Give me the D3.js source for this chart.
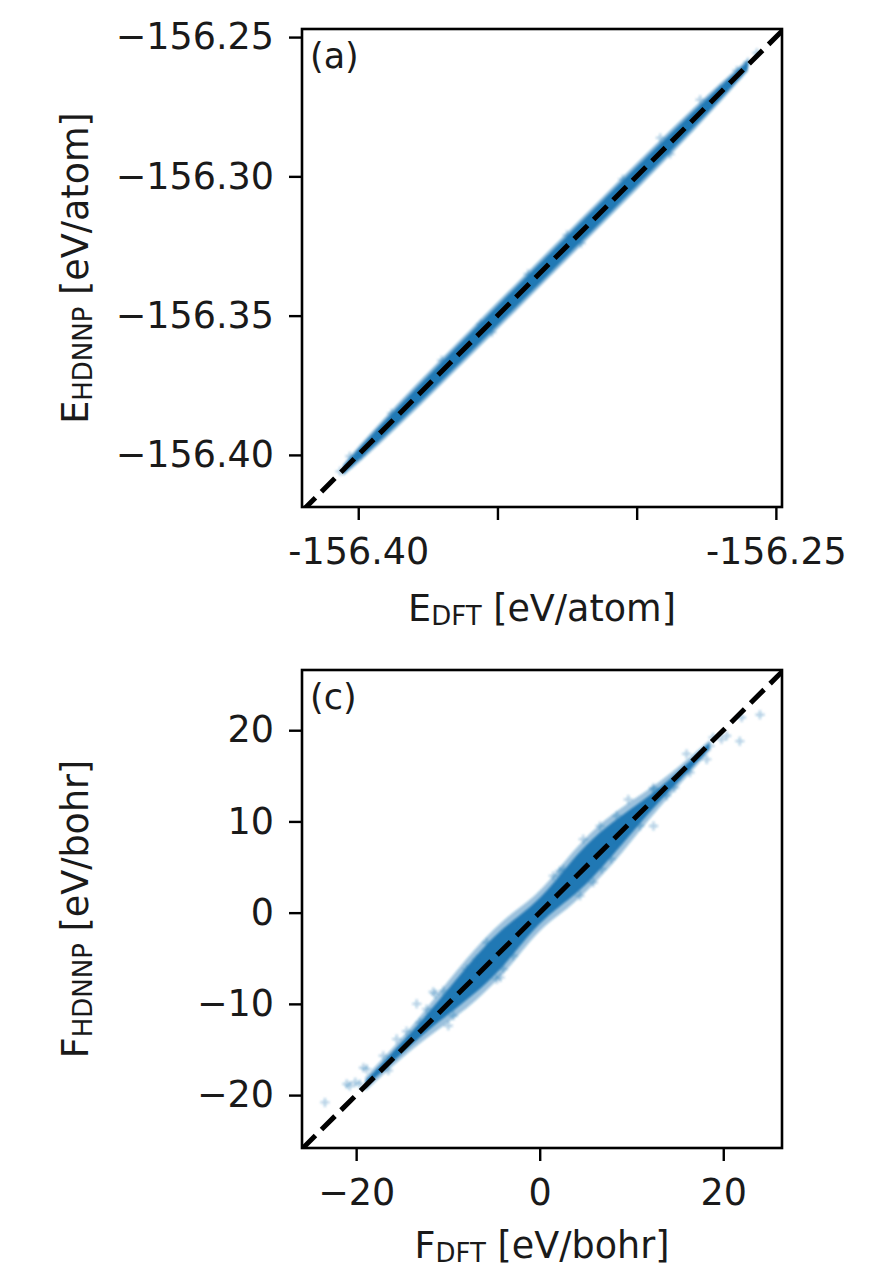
<!DOCTYPE html>
<html>
<head>
<meta charset="utf-8">
<script src="https://cdn.jsdelivr.net/npm/d3@7"></script>
<style>
  html, body { margin: 0; padding: 0; background: #fff; }
  svg { display: block; font-family: "DejaVu Sans", sans-serif; }
</style>
</head>
<body>
<svg id="fig" width="880" height="1267"></svg>
<script>
// ---- Energy parity panel (a) ----
const energyDomainX = [-156.4202, -156.2478];
const energyDomainY = [-156.4187, -156.2471];
const energyTicks = [-156.40, -156.35, -156.30, -156.25];
const energyTickLabelsX = ["-156.40", "", "", "-156.25"];
const energyTickLabelsY = ["\u2212156.40", "\u2212156.35", "\u2212156.30", "\u2212156.25"];

// dense core / lighter fringe of the energy scatter (DFT value, HDNNP lower and upper edge)
const energyBandDFT  = [-156.4055, -156.400, -156.390, -156.380, -156.370, -156.360, -156.350, -156.340, -156.330, -156.320, -156.310, -156.300, -156.290, -156.280, -156.270, -156.260];
const energyCoreLo   = [-156.4067, -156.4020, -156.3927, -156.3831, -156.3733, -156.3634, -156.3535, -156.3435, -156.3335, -156.3235, -156.3135, -156.3034, -156.2932, -156.2829, -156.2723, -156.2613];
const energyCoreHi   = [-156.4043, -156.3980, -156.3873, -156.3769, -156.3667, -156.3566, -156.3465, -156.3365, -156.3265, -156.3165, -156.3065, -156.2966, -156.2868, -156.2771, -156.2677, -156.2587];
const energyFringeLo = [-156.4075, -156.4030, -156.3939, -156.3844, -156.3746, -156.3647, -156.3548, -156.3448, -156.3348, -156.3248, -156.3148, -156.3047, -156.2945, -156.2841, -156.2734, -156.2622];
const energyFringeHi = [-156.4035, -156.3970, -156.3861, -156.3756, -156.3654, -156.3553, -156.3452, -156.3352, -156.3252, -156.3152, -156.3052, -156.2953, -156.2855, -156.2759, -156.2666, -156.2578];

// sparse energy points outside the core
const energyOutDFT   = [-156.4065, -156.4030, -156.3990, -156.3880, -156.3700, -156.3560, -156.3520, -156.3390, -156.3250, -156.3200, -156.3050, -156.2915, -156.2880, -156.2772, -156.2700, -156.2640, -156.2600, -156.2568];
const energyOutHDNNP = [-156.4059, -156.4005, -156.4000, -156.3850, -156.3660, -156.3530, -156.3560, -156.3350, -156.3210, -156.3240, -156.3010, -156.2862, -156.2920, -156.2725, -156.2690, -156.2620, -156.2590, -156.2557];

// ---- Force parity panel (c) ----
const forceDomainX = [-25.9, 26.4];
const forceDomainY = [-25.8, 26.6];
const forceTicks = [-20, -10, 0, 10, 20];
const forceTicksX = [-20, 0, 20];
const forceTickLabelsY = ["\u221220", "\u221210", "0", "10", "20"];
const forceTickLabelsX = ["\u221220", "0", "20"];

// dense core and lighter fringe of the force scatter
const forceBandDFT  = [-19, -17, -15, -13, -11, -9, -7, -5, -3, -1, 1, 3, 5, 7, 9, 11, 13, 15, 17, 18.5];
const forceCoreLo   = [-19.15, -17.25, -15.4, -13.6, -11.95, -10.4, -8.8, -7.0, -4.7, -2.2, -0.2, 1.3, 3.0, 5.2, 7.5, 9.9, 12.15, 14.25, 16.4, 18.0];
const forceCoreHi   = [-18.45, -16.35, -14.2, -12.0, -9.65, -7.2, -4.8, -2.6, -0.9, 0.6, 2.6, 5.1, 7.4, 9.2, 10.7, 12.1, 13.65, 15.35, 17.2, 18.6];
const forceFringeLo = [-19.55, -17.7, -15.9, -14.25, -12.8, -11.3, -9.7, -7.8, -5.6, -3.0, -1.0, 0.4, 2.2, 4.3, 6.6, 9.1, 11.5, 13.75, 16.0, 17.7];
const forceFringeHi = [-18.05, -15.9, -13.7, -11.35, -8.8, -6.3, -3.9, -1.8, 0.0, 1.4, 3.4, 6.0, 8.2, 10.1, 11.6, 12.9, 14.3, 15.85, 17.6, 18.9];

// individual force components away from the core
const forceOutDFT   = [24.0, 22.0, 19.8, 21.8, 18.9, 17.5, 18.2, 16.0, 14.7, 12.4, 12.4, 9.65, 7.8, 6.75, 4.75, 2.2, -4.3, -11.4, -11.6, -13.4, -9.96, -9.4, -14.5, -16.5, -19.2, -20.7, -20.1, -19.6, -23.4,
  -10.5, -9.04, -7.95, -6.86, -4.68, -3.96, -2.88, -5.77, -2.51, 1.48, 2.57, 4.39, 5.84, 7.66, 8.39, 6.57, 8.39, 10.2, 10.93, 13.83, 14.92, 16.37, 12.37, -12.31, -13.04, -15.58, -17.04, -18.85, -21.02, 18.55, 20.37];
const forceOutHDNNP = [21.7, 21.4, 19.0, 18.8, 19.2, 17.2, 16.8, 17.4, 13.7, 13.7, 9.5, 12.4, 5.9, 4.8, 8.05, 4.6, -7.1, -8.9, -8.7, -10.0, -12.4, -11.3, -13.0, -17.3, -17.0, -19.0, -18.6, -18.8, -20.8,
  -8.57, -9.48, -6.19, -5.10, -7.29, -6.19, -4.73, -3.27, -1.07, 4.03, 4.77, 1.84, 3.31, 6.6, 7.69, 9.51, 10.61, 10.98, 9.51, 12.8, 14.63, 15.36, 13.53, -10.58, -12.03, -13.86, -15.69, -17.15, -18.79, 18.28, 19.38];

const BLUE = "#1f77b4";
const INK = "#1a1a1a";
const FS = 36.5;      // tick and title font size
const SUB = 26;       // subscript font size

const svg = d3.select("#fig");
const defs = svg.append("defs");
defs.append("filter").attr("id", "soft")
  .append("feGaussianBlur").attr("stdDeviation", 0.9);

function panel(cfg) {
  const { left, top, width, height } = cfg.box;
  const x = d3.scaleLinear().domain(cfg.domainX).range([left, left + width]);
  const y = d3.scaleLinear().domain(cfg.domainY).range([top + height, top]);
  const clipId = "clip-" + cfg.key;
  defs.append("clipPath").attr("id", clipId)
    .append("rect").attr("x", left).attr("y", top).attr("width", width).attr("height", height);

  const g = svg.append("g");
  const plot = g.append("g").attr("clip-path", `url(#${clipId})`);
  const marks = plot.append("g").attr("filter", "url(#soft)");

  const band = cfg.bandX.map((v, i) => ({ x: v, i }));
  marks.append("path")
    .attr("d", d3.area().curve(d3.curveBasis)
      .x(d => x(d.x)).y0(d => y(cfg.fringeLo[d.i])).y1(d => y(cfg.fringeHi[d.i]))(band))
    .attr("fill", BLUE).attr("fill-opacity", cfg.fringeOpacity);
  marks.append("path")
    .attr("d", d3.area().curve(d3.curveBasis)
      .x(d => x(d.x)).y0(d => y(cfg.coreLo[d.i])).y1(d => y(cfg.coreHi[d.i]))(band))
    .attr("fill", BLUE).attr("fill-opacity", 0.97);

  const s = 4.5;
  marks.selectAll("path.pt").data(cfg.outX.map((v, i) => [v, cfg.outY[i]]))
    .join("path").attr("class", "pt")
    .attr("d", d => `M${x(d[0]) - s},${y(d[1])}h${2 * s}M${x(d[0])},${y(d[1]) - s}v${2 * s}`)
    .attr("stroke", BLUE).attr("stroke-width", 2.4).attr("stroke-opacity", 0.33).attr("fill", "none");

  // identity line
  const lo = Math.min(cfg.domainX[0], cfg.domainY[0]);
  const hi = Math.max(cfg.domainX[1], cfg.domainY[1]);
  plot.append("line")
    .attr("x1", x(lo)).attr("y1", y(lo)).attr("x2", x(hi)).attr("y2", y(hi))
    .attr("stroke", "#000").attr("stroke-width", 5).attr("stroke-dasharray", "19,8.5");

  // axes
  const yAxis = d3.axisLeft(y).tickValues(cfg.ticksY).tickSize(13).tickPadding(15)
    .tickFormat((d, i) => cfg.tickLabelsY[i]);
  const xAxis = d3.axisBottom(x).tickValues(cfg.ticksX).tickSize(13).tickPadding(18)
    .tickFormat((d, i) => cfg.tickLabelsX[i]);
  const ya = g.append("g").attr("transform", `translate(${left},0)`).call(yAxis);
  const xa = g.append("g").attr("transform", `translate(0,${top + height})`).call(xAxis);
  [ya, xa].forEach(a => {
    a.select(".domain").remove();
    a.selectAll("line").attr("stroke", "#000").attr("stroke-width", 2.4);
    a.selectAll("text").attr("fill", INK).attr("font-size", FS)
      .attr("font-family", "DejaVu Sans");
  });

  g.append("rect").attr("x", left).attr("y", top).attr("width", width).attr("height", height)
    .attr("fill", "none").attr("stroke", "#000").attr("stroke-width", 2.6);

  g.append("text").attr("x", left + 8).attr("y", top + 39)
    .attr("font-size", 35).attr("fill", INK).text(cfg.tag);

  // axis titles with subscripts
  const xt = g.append("text").attr("x", left + width / 2).attr("y", cfg.xTitleY)
    .attr("text-anchor", "middle").attr("font-size", FS).attr("fill", INK);
  xt.append("tspan").text(cfg.xTitle[0]);
  xt.append("tspan").attr("font-size", SUB).attr("dy", 4).text(cfg.xTitle[1]);
  xt.append("tspan").attr("dy", -4).text(cfg.xTitle[2]);

  const yt = g.append("text")
    .attr("transform", `translate(${cfg.yTitleX},${top + height / 2}) rotate(-90)`)
    .attr("text-anchor", "middle").attr("font-size", FS).attr("fill", INK);
  yt.append("tspan").text(cfg.yTitle[0]);
  yt.append("tspan").attr("font-size", SUB).attr("dy", 4).text(cfg.yTitle[1]);
  yt.append("tspan").attr("dy", -4).text(cfg.yTitle[2]);
}

panel({
  key: "energy", tag: "(a)",
  box: { left: 302, top: 29, width: 480, height: 478 },
  domainX: energyDomainX, domainY: energyDomainY,
  ticksX: energyTicks, ticksY: energyTicks,
  tickLabelsX: energyTickLabelsX, tickLabelsY: energyTickLabelsY,
  bandX: energyBandDFT, coreLo: energyCoreLo, coreHi: energyCoreHi,
  fringeLo: energyFringeLo, fringeHi: energyFringeHi, fringeOpacity: 0.55,
  outX: energyOutDFT, outY: energyOutHDNNP,
  xTitle: ["E", "DFT", " [eV/atom]"], yTitle: ["E", "HDNNP", " [eV/atom]"],
  xTitleY: 621, yTitleX: 88
});

panel({
  key: "force", tag: "(c)",
  box: { left: 302, top: 670, width: 480, height: 478 },
  domainX: forceDomainX, domainY: forceDomainY,
  ticksX: forceTicksX, ticksY: forceTicks,
  tickLabelsX: forceTickLabelsX, tickLabelsY: forceTickLabelsY,
  bandX: forceBandDFT, coreLo: forceCoreLo, coreHi: forceCoreHi,
  fringeLo: forceFringeLo, fringeHi: forceFringeHi, fringeOpacity: 0.45,
  outX: forceOutDFT, outY: forceOutHDNNP,
  xTitle: ["F", "DFT", " [eV/bohr]"], yTitle: ["F", "HDNNP", " [eV/bohr]"],
  xTitleY: 1258, yTitleX: 88
});
</script>
</body>
</html>
